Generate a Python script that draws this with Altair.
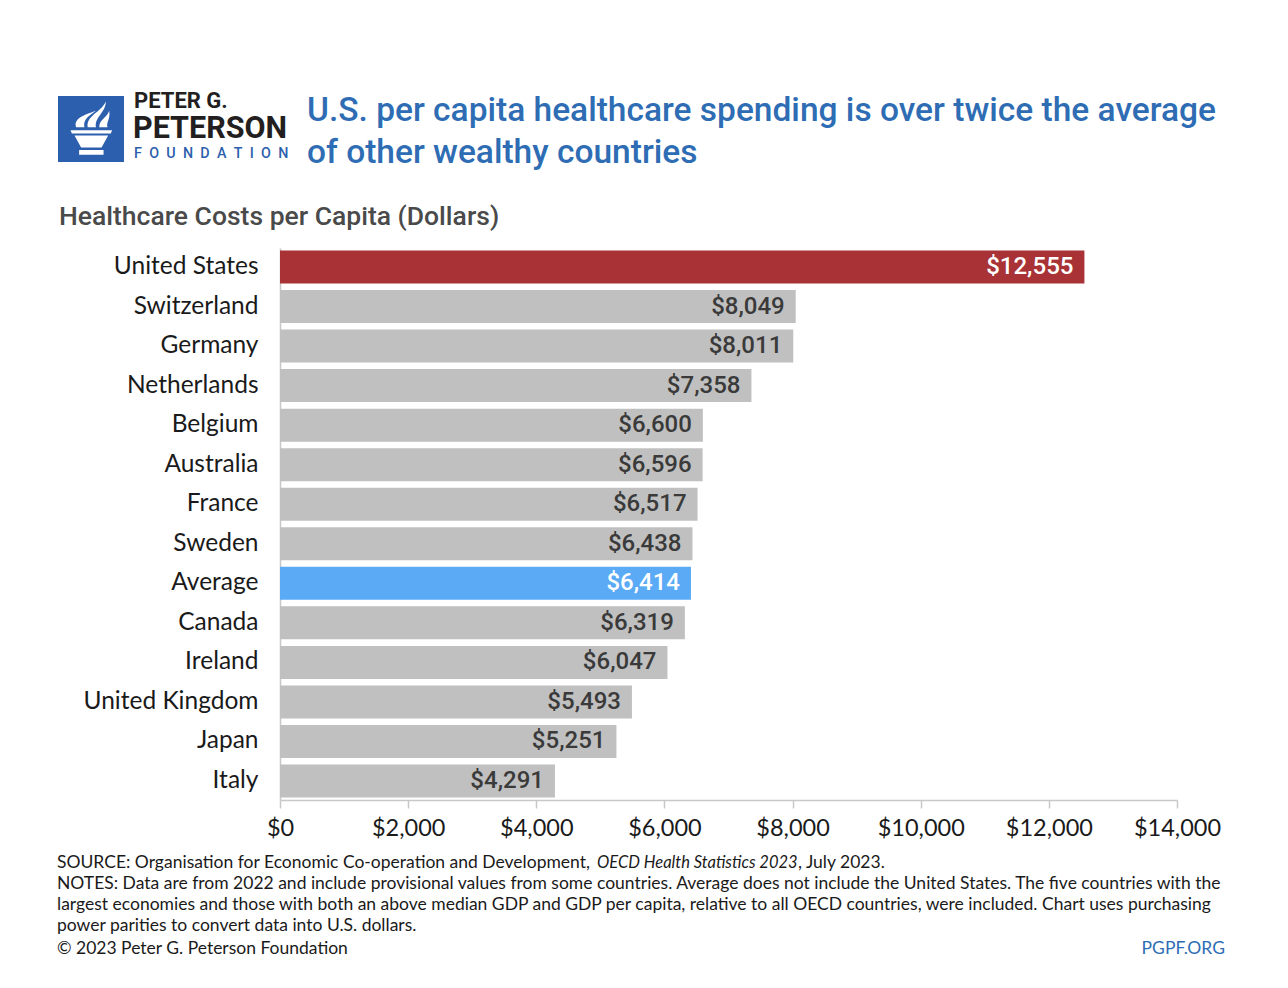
import altair as alt
import pandas as pd

countries = ["United States", "Switzerland", "Germany", "Netherlands", "Belgium",
             "Australia", "France", "Sweden", "Average", "Canada", "Ireland",
             "United Kingdom", "Japan", "Italy"]
values = [12555, 8049, 8011, 7358, 6600, 6596, 6517, 6438, 6414, 6319, 6047,
          5493, 5251, 4291]
groups = ["us", "other", "other", "other", "other", "other", "other", "other",
          "avg", "other", "other", "other", "other", "other"]
x_ticks = [0, 2000, 4000, 6000, 8000, 10000, 12000, 14000]

title_lines = ["U.S. per capita healthcare spending is over twice the average",
               "of other wealthy countries"]
subtitle = "Healthcare Costs per Capita (Dollars)"
source_a = "SOURCE: Organisation for Economic Co-operation and Development, "
source_b = "OECD Health Statistics 2023"
source_c = ", July 2023."
notes = [
    "NOTES: Data are from 2022 and include provisional values from some countries. Average does not include the United States. The five countries with the",
    "largest economies and those with both an above median GDP and GDP per capita, relative to all OECD countries, were included. Chart uses purchasing",
    "power parities to convert data into U.S. dollars.",
]
copyright_txt = "\u00a9 2023 Peter G. Peterson Foundation"
site = "PGPF.ORG"

df = pd.DataFrame({"country": countries, "value": values, "group": groups})
df["label"] = df["value"].map(lambda v: f"${v:,}")

LABEL_FONT = "Lato"
HEAD_FONT = "Roboto"

y_enc = alt.Y("country:N", sort=countries, title=None,
              scale=alt.Scale(paddingInner=0.165, paddingOuter=0.063),
              axis=alt.Axis(ticks=False, labelPadding=22, labelFontSize=24.5,
                            labelFont=LABEL_FONT, labelColor="#1a1a1a",
                            domainColor="#c8c8c8", domainWidth=1.5))
x_enc = alt.X("value:Q", title=None,
              scale=alt.Scale(domain=[0, 14000], nice=False),
              axis=alt.Axis(values=x_ticks, format="$,d", grid=False,
                            tickSize=8, tickColor="#c8c8c8", tickWidth=1.5,
                            domainColor="#c8c8c8", domainWidth=1.5,
                            labelFlush=False, labelBound=False, labelOverlap=False,
                            labelPadding=8, labelFontSize=23.5,
                            labelFont=LABEL_FONT, labelColor="#1a1a1a"))

bars = alt.Chart(df).mark_bar().encode(
    y=y_enc, x=x_enc,
    color=alt.Color("group:N", legend=None,
                    scale=alt.Scale(domain=["us", "other", "avg"],
                                    range=["#a83236", "#c0c0c0", "#5aaaf6"])),
)

vlabels = alt.Chart(df).mark_text(align="right", baseline="middle", dx=-11,
                                  font=HEAD_FONT, fontSize=24, fontWeight=500).encode(
    y=alt.Y("country:N", sort=countries),
    x="value:Q",
    text="label:N",
    color=alt.condition("datum.group == 'other'", alt.value("#3a3a3a"), alt.value("#ffffff")),
)


def txt(s, x, y, size, color, font=LABEL_FONT, weight="normal", align="left",
        style="normal"):
    return alt.Chart(pd.DataFrame({"t": [s]})).mark_text(
        align=align, baseline="middle", font=font, fontSize=size,
        fontWeight=weight, color=color, fontStyle=style).encode(
        x=alt.value(x), y=alt.value(y), text="t:N")


logo_box = alt.Chart(pd.DataFrame({"a": [0]})).mark_rect(color="#2c5fad").encode(
    x=alt.value(-222), x2=alt.value(-156), y=alt.value(-152), y2=alt.value(-86))

torch_path = (
    "M -0.62 0.04 L 0.64 0.04 L 0.6 0.14 L -0.58 0.14 Z "
    "M -0.5 0.2 L 0.52 0.2 L 0.32 0.56 L -0.3 0.56 Z "
    "M -0.36 0.64 L 0.38 0.64 L 0.38 0.78 L -0.36 0.78 Z "
    "M -0.45 -0.05 C -0.55 -0.35 -0.1 -0.45 0.15 -0.55 C -0.05 -0.4 -0.25 -0.3 -0.2 -0.05 Z "
    "M -0.1 -0.05 C -0.15 -0.4 0.3 -0.5 0.45 -0.83 C 0.45 -0.5 0.1 -0.35 0.15 -0.05 Z "
    "M 0.25 -0.05 C 0.25 -0.3 0.5 -0.35 0.55 -0.55 C 0.6 -0.3 0.45 -0.2 0.5 -0.05 Z"
)
torch = alt.Chart(pd.DataFrame({"a": [0]})).mark_point(
    shape=torch_path, filled=True, color="#ffffff", opacity=1, size=4356,
    strokeWidth=0).encode(x=alt.value(-189), y=alt.value(-119))

FOOT = 17.5
layers = [
    bars, vlabels, logo_box, torch,
    txt("PETER G.", -146, -147, 22, "#231f20", font=HEAD_FONT, weight="bold"),
    txt("PETERSON", -147, -119, 30.5, "#231f20", font=HEAD_FONT, weight="bold"),
    txt("F\u2002O\u2002U\u2002N\u2002D\u2002A\u2002T\u2002I\u2002O\u2002N", -146, -94, 14.3,
        "#2c5fad", font=HEAD_FONT, weight=500),
    txt(title_lines[0], 27, -137, 33.5, "#2e6db4", font=HEAD_FONT, weight=500),
    txt(title_lines[1], 27, -95, 33.5, "#2e6db4", font=HEAD_FONT, weight=500),
    txt(subtitle, -221, -31, 26.5, "#4a4a4a", font=HEAD_FONT, weight=500),
    txt(source_a, -223, 615, FOOT, "#1a1a1a"),
    txt(source_b, 317, 615, 16.5, "#1a1a1a", style="italic"),
    txt(source_c, 518, 615, FOOT, "#1a1a1a"),
    txt(notes[0], -223, 636, FOOT, "#1a1a1a"),
    txt(notes[1], -223, 657, FOOT, "#1a1a1a"),
    txt(notes[2], -223, 678, FOOT, "#1a1a1a"),
    txt(copyright_txt, -223, 701, FOOT, "#1a1a1a"),
    txt(site, 945, 701, FOOT, "#2e6db4", align="right"),
]

chart = alt.layer(*layers).properties(
    width=897, height=552,
    padding={"left": 272, "top": 240, "right": 103, "bottom": 180},
    autosize=alt.AutoSizeParams(type="none"),
    background="#ffffff",
).configure_view(stroke=None)

chart.save("out.html", embed_options={"renderer": "svg", "actions": False})
